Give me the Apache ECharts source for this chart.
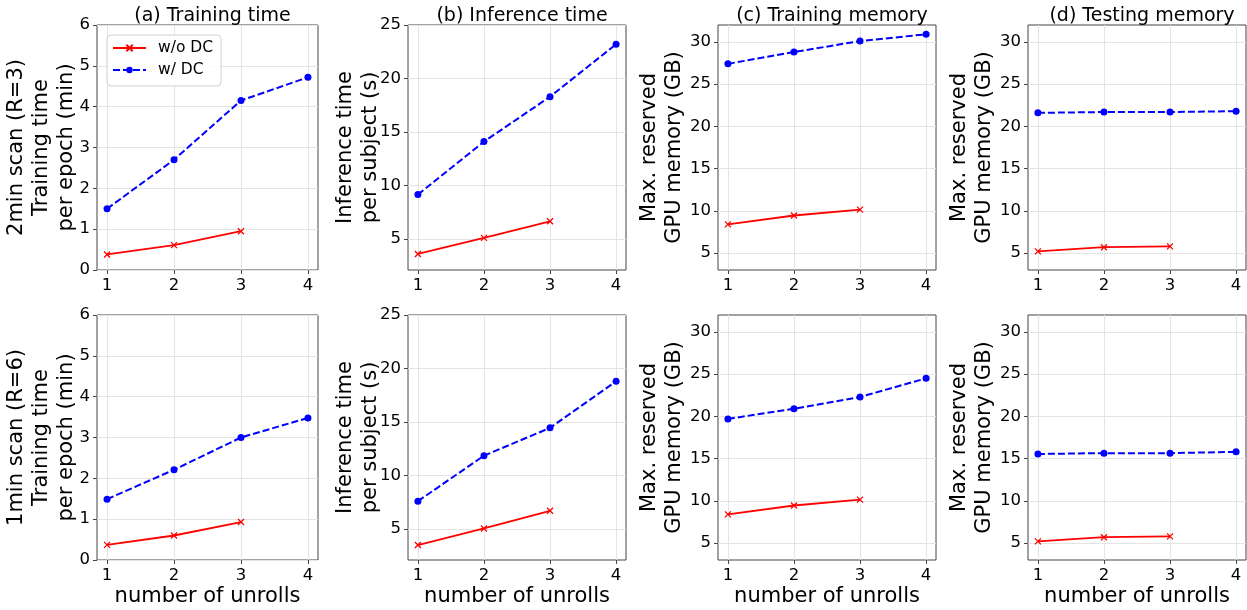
<!DOCTYPE html>
<html>
<head>
<meta charset="utf-8">
<script src="https://cdn.jsdelivr.net/npm/echarts@6/dist/echarts.min.js"></script>
<style>
html,body{margin:0;padding:0;background:#fff;}
#chart{width:1247px;height:610px;}
</style>
</head>
<body>
<div id="chart"></div>
<script>
// ---------- data ----------
const unrolls = [1, 2, 3, 4];
const xTicks = [1, 2, 3, 4];
const panelTitles = ['(a) Training time', '(b) Inference time', '(c) Training memory', '(d) Testing memory'];
const seriesNames = ['w/o DC', 'w/ DC'];
const xAxisName = 'number of unrolls';
const yNamesTop = ['2min scan (R=3)\nTraining time\nper epoch (min)', 'Inference time\nper subject (s)', 'Max. reserved\nGPU memory (GB)', 'Max. reserved\nGPU memory (GB)'];
const yNamesBottom = ['1min scan (R=6)\nTraining time\nper epoch (min)', 'Inference time\nper subject (s)', 'Max. reserved\nGPU memory (GB)', 'Max. reserved\nGPU memory (GB)'];
const yTicksTime = [0, 1, 2, 3, 4, 5, 6];
const yTicksInfer = [5, 10, 15, 20, 25];
const yTicksMem = [5, 10, 15, 20, 25, 30];

// 2min scan (R=3)
const trainTimeR3_woDC = [0.38, 0.61, 0.95];
const trainTimeR3_wDC = [1.5, 2.7, 4.15, 4.72];
const inferTimeR3_woDC = [3.6, 5.1, 6.65];
const inferTimeR3_wDC = [9.15, 14.1, 18.3, 23.2];
const trainMemR3_woDC = [8.4, 9.45, 10.15];
const trainMemR3_wDC = [27.4, 28.8, 30.1, 30.9];
const testMemR3_woDC = [5.2, 5.7, 5.8];
const testMemR3_wDC = [21.6, 21.7, 21.7, 21.8];
// 1min scan (R=6)
const trainTimeR6_woDC = [0.37, 0.6, 0.93];
const trainTimeR6_wDC = [1.49, 2.21, 3.0, 3.48];
const inferTimeR6_woDC = [3.5, 5.05, 6.7];
const inferTimeR6_wDC = [7.6, 11.85, 14.45, 18.8];
const trainMemR6_woDC = [8.4, 9.45, 10.15];
const trainMemR6_wDC = [19.7, 20.9, 22.3, 24.5];
const testMemR6_woDC = [5.2, 5.7, 5.8];
const testMemR6_wDC = [15.55, 15.65, 15.65, 15.8];

// ---------- layout ----------
const FONT = 'DejaVu Sans';
const colLeft = [97, 408, 718, 1028];
const colWidth = [221, 218, 218, 218];
const rowTop = [25, 315];
const rowHeight = 245;
const yRanges = [[0, 6], [2.1, 25], [3, 32], [3, 32]];
const yTickSets = [yTicksTime, yTicksInfer, yTicksMem, yTicksMem];
const yNameGaps = [18, 25, 31, 31];

const panels = [
  [[trainTimeR3_woDC, trainTimeR3_wDC], [inferTimeR3_woDC, inferTimeR3_wDC], [trainMemR3_woDC, trainMemR3_wDC], [testMemR3_woDC, testMemR3_wDC]],
  [[trainTimeR6_woDC, trainTimeR6_wDC], [inferTimeR6_woDC, inferTimeR6_wDC], [trainMemR6_woDC, trainMemR6_wDC], [testMemR6_woDC, testMemR6_wDC]]
];

const grids = [], xAxes = [], yAxes = [], series = [], titles = [];
const xPath = 'path://M0,0L10,10M10,0L0,10';
const axisColor = '#444';
const gridLineColor = '#e4e4e4';

for (let r = 0; r < 2; r++) {
  for (let c = 0; c < 4; c++) {
    const idx = r * 4 + c;
    grids.push({
      left: colLeft[c], top: rowTop[r], width: colWidth[c], height: rowHeight,
      show: true, borderColor: axisColor, borderWidth: 1, containLabel: false
    });
    xAxes.push({
      type: 'value', gridIndex: idx, min: 0.85, max: 4.15,
      name: r === 1 ? xAxisName : '', nameLocation: 'middle', nameGap: 26,
      nameTextStyle: { fontFamily: FONT, fontSize: 21, color: '#000' },
      axisLine: { show: false },
      axisTick: { show: true, length: 4, lineStyle: { color: axisColor }, customValues: xTicks },
      axisLabel: { customValues: xTicks, fontFamily: FONT, fontSize: 16.5, color: '#000', margin: 7 },
      splitLine: { show: true, lineStyle: { color: gridLineColor, width: 1 } }
    });
    yAxes.push({
      type: 'value', gridIndex: idx, min: yRanges[c][0], max: yRanges[c][1],
      name: r === 0 ? yNamesTop[c] : yNamesBottom[c], nameLocation: 'middle', nameRotate: 90,
      nameGap: yNameGaps[c], nameMoveOverlap: false,
      nameTextStyle: { fontFamily: FONT, fontSize: 21, color: '#000', lineHeight: 25 },
      axisLine: { show: false },
      axisTick: { show: true, length: 4, lineStyle: { color: axisColor }, customValues: yTickSets[c] },
      axisLabel: { customValues: yTickSets[c], fontFamily: FONT, fontSize: 16.5, color: '#000', margin: 7 },
      splitLine: { show: true, lineStyle: { color: gridLineColor, width: 1 } }
    });
    const [woDC, wDC] = panels[r][c];
    series.push({
      name: seriesNames[0], type: 'line', xAxisIndex: idx, yAxisIndex: idx,
      data: woDC.map((v, i) => [unrolls[i], v]),
      symbol: xPath, symbolSize: 6,
      lineStyle: { color: '#ff0000', width: 1.8 },
      itemStyle: { color: '#ff0000', borderColor: '#ff0000', borderWidth: 1.3 },
      animation: false, z: 3
    });
    series.push({
      name: seriesNames[1], type: 'line', xAxisIndex: idx, yAxisIndex: idx,
      data: wDC.map((v, i) => [unrolls[i], v]),
      symbol: 'circle', symbolSize: 7,
      lineStyle: { color: '#0000ff', width: 2, type: [7, 3] },
      itemStyle: { color: '#0000ff', borderWidth: 0 },
      animation: false, z: 3
    });
    if (r === 0) {
      titles.push({
        text: panelTitles[c], left: colLeft[c] + colWidth[c] / 2, top: 2, textAlign: 'center',
        textStyle: { fontFamily: FONT, fontSize: 19, fontWeight: 'normal', color: '#000' }
      });
    }
  }
}

const chart = echarts.init(document.getElementById('chart'), null, { renderer: 'canvas' });
chart.setOption({
  backgroundColor: '#fff',
  animation: false,
  title: titles,
  legend: {
    data: seriesNames, orient: 'vertical', left: 107, top: 35,
    itemWidth: 33, itemHeight: 8, itemGap: 6,
    padding: [5, 8, 8, 5],
    borderColor: '#d0d0d0', borderWidth: 1, borderRadius: 4, backgroundColor: 'rgba(255,255,255,0.85)',
    textStyle: { fontFamily: FONT, fontSize: 15.5, color: '#000', padding: [0, 0, 0, 7] }
  },
  grid: grids,
  xAxis: xAxes,
  yAxis: yAxes,
  series: series
});
</script>
</body>
</html>
